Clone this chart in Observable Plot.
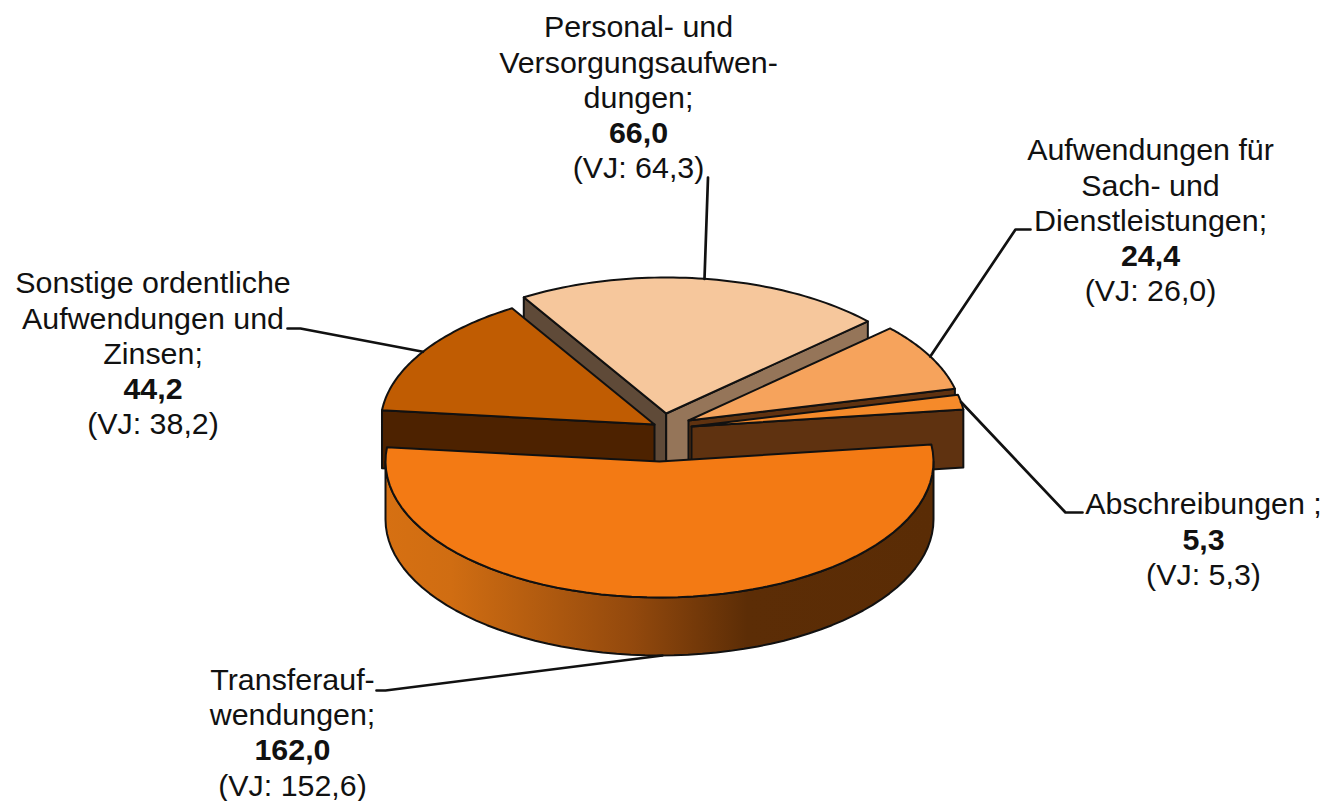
<!DOCTYPE html>
<html lang="de">
<head>
<meta charset="utf-8">
<script src="https://cdn.jsdelivr.net/npm/d3@7"></script>
<script src="https://cdn.jsdelivr.net/npm/@observablehq/plot@0.6"></script>
<style>html,body{margin:0;padding:0;background:#fff}</style>
</head>
<body>
<div id="chart"></div>
<script>
// --- data ---
const categories = ["Transfer", "Sonstige", "Personal", "Sach", "Abschr"];
const values = [162.0, 44.2, 66.0, 24.4, 5.3];
const previous = [152.6, 38.2, 64.3, 26.0, 5.3];
const labelLines = [
  ["Transferauf-", "wendungen;"],
  ["Sonstige ordentliche", "Aufwendungen und", "Zinsen;"],
  ["Personal- und", "Versorgungsaufwen-", "dungen;"],
  ["Aufwendungen für", "Sach- und", "Dienstleistungen;"],
  ["Abschreibungen ;"]
];
// --- styles / layout ---
const topColors = ["#f37a14", "#c05c02", "#f6c79c", "#f6a35c", "#f58a2a"];
const frontFace = ["#5a2c05", "#4d2200", "#957559", "#5f3210", "#5f3210"];
const backFace = ["#5a2c05", "#4d2200", "#5f4a38", "#5f3210", "#5f3210"];
const apexX = [659, 654, 665.7, 688, 691];
const apexY = [461, 424, 413, 420, 426];
const labelX = [292, 152.5, 638, 1150, 1203];
const labelY = [679.5, 283, 27, 150, 504];
const elbowX = [385, 300, 707.5, 1015, 1065];
const elbowY = [690, 328, 177, 229, 512];
const tailX = [376, 287, 707.5, 1030, 1082];
const rx = 274, ry = 136, depth = 58, lineH = 35.3;
const total = d3.sum(values);
const startAngle = 82.8; // clockwise from north, start of first slice
const rad = d => d * Math.PI / 180;
const rim = (i, deg, dy = 0) => ({
  x: apexX[i] + rx * Math.sin(rad(deg)),
  y: apexY[i] - ry * Math.cos(rad(deg)) + dy
});
const arc = (i, from, to, dy = 0) => d3.range(0, 61).map(k => rim(i, from + (to - from) * k / 60, dy));

// slice angles
let cursor = startAngle;
const slices = values.map((v, i) => {
  const from = cursor, to = cursor + v / total * 360;
  cursor = to;
  return {i, from, to, mid: (from + to) / 2};
});

const poly = (pts, fill) => Plot.line([...pts, pts[0]], {
  x: "x", y: "y", fill, stroke: "#111", strokeWidth: 2, curve: "linear"
});
const apex = (i, dy = 0) => ({x: apexX[i], y: apexY[i] + dy});
const radialFace = (i, deg, fill) => poly(
  [apex(i), rim(i, deg), rim(i, deg, depth), apex(i, depth)], fill);
const topFace = s => poly([apex(s.i), ...arc(s.i, s.from, s.to)], topColors[s.i]);

const [sT, sO, sP, sA, sD] = slices;

const sliceMarks = [
  // Personal
  radialFace(2, sP.from, backFace[2]),
  radialFace(2, sP.to, frontFace[2]),
  topFace(sP),
  // Sonstige
  radialFace(1, sO.from, frontFace[1]),
  topFace(sO),
  // Aufwendungen Sach
  radialFace(3, sA.to, frontFace[3]),
  topFace(sA),
  // Abschreibungen
  radialFace(4, sD.to, frontFace[4]),
  topFace(sD),
  // Transfer
  poly([...arc(0, 90, 270), ...arc(0, 270, 90, depth)], "url(#rimGrad)"),
  topFace(sT)
];

const leaders = slices.map(s => {
  const i = s.i;
  const end = rim(i, s.mid, i === 0 ? depth : 0);
  return [
    {x: tailX[i], y: elbowY[i]},
    {x: elbowX[i], y: elbowY[i]},
    end
  ];
});

const textRows = categories.flatMap((c, i) => {
  const rows = labelLines[i].map(t => ({t, bold: false}));
  rows.push({t: values[i].toFixed(1).replace(".", ","), bold: true});
  rows.push({t: "(VJ: " + previous[i].toFixed(1).replace(".", ",") + ")", bold: false});
  return rows.map((r, k) => ({...r, x: labelX[i], y: labelY[i] + k * lineH}));
});

const gradient = () => {
  const defs = d3.create("svg:defs");
  const g = defs.append("linearGradient").attr("id", "rimGrad");
  [[0, "#d67012"], [0.12, "#d06d12"], [0.45, "#93490d"], [0.66, "#5c2d06"], [1, "#5a2c05"]]
    .forEach(([o, c]) => g.append("stop").attr("offset", o).attr("stop-color", c));
  return defs.node();
};

const chart = Plot.plot({
  width: 1327,
  height: 801,
  margin: 0,
  x: {domain: [0, 1327], range: [0, 1327], axis: null},
  y: {domain: [0, 801], range: [0, 801], axis: null},
  style: {fontFamily: "'Liberation Sans', Arial, sans-serif", background: "#fff"},
  marks: [
    gradient,
    ...sliceMarks,
    ...leaders.map(l => Plot.line(l, {x: "x", y: "y", stroke: "#111", strokeWidth: 2.7, curve: "linear"})),
    Plot.text(textRows.filter(d => !d.bold), {x: "x", y: "y", text: "t", fontSize: 30.4, fill: "#111", textAnchor: "middle", lineAnchor: "middle"}),
    Plot.text(textRows.filter(d => d.bold), {x: "x", y: "y", text: "t", fontSize: 30.4, fontWeight: "bold", fill: "#111", textAnchor: "middle", lineAnchor: "middle"})
  ]
});
document.getElementById("chart").append(chart);
</script>
</body>
</html>
